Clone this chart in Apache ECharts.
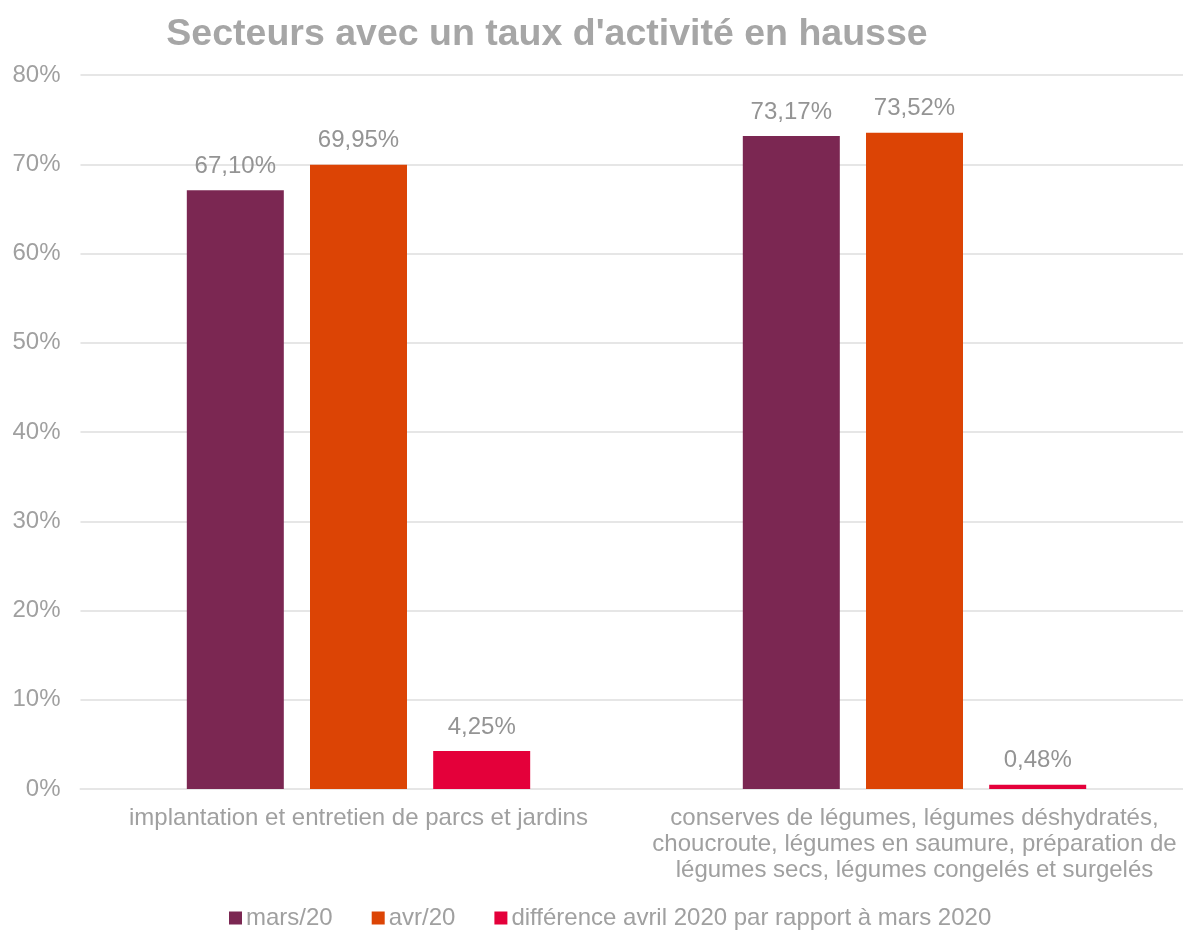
<!DOCTYPE html>
<html>
<head>
<meta charset="utf-8">
<script src="https://cdn.jsdelivr.net/npm/echarts@6/dist/echarts.min.js"></script>
<style>html,body{margin:0;padding:0;background:#fff;overflow:hidden}#c{width:1193px;height:936px}</style>
</head>
<body>
<div id="c"></div>
<script>
var categories = [
  "implantation et entretien de parcs et jardins",
  "conserves de légumes, légumes déshydratés,\nchoucroute, légumes en saumure, préparation de\nlégumes secs, légumes congelés et surgelés"
];
var seriesNames = ["mars/20", "avr/20", "différence avril 2020 par rapport à mars 2020"];
var marsValues = [67.10, 73.17];
var avrValues = [69.95, 73.52];
var diffValues = [4.25, 0.48];
var colors = ["#7B2752", "#DC4405", "#E4003A"];

var chart = echarts.init(document.getElementById('c'));
var font = "'Liberation Sans', Arial, sans-serif";
function fmt(v) { return v.toFixed(2).replace('.', ',') + '%'; }
function mk(name, data, color) {
  return {
    name: name, type: 'bar', data: data, barWidth: 97, barGap: '27%',
    itemStyle: { color: color },
    label: { show: true, position: 'top', distance: 12, color: '#949494', fontSize: 24, fontFamily: font,
      formatter: function (p) { return fmt(p.value); } }
  };
}
chart.setOption({
  animation: false,
  textStyle: { fontFamily: font },
  title: { text: "Secteurs avec un taux d'activité en hausse", left: 542, textAlign: 'center', top: 11,
    textStyle: { fontSize: 37.5, fontWeight: 'bold', color: '#A6A6A6', fontFamily: font } },
  grid: { left: 80.5, right: 0.5, top: 75, bottom: 147, containLabel: false },
  legend: { bottom: 1, left: 224, itemWidth: 13, itemHeight: 13, itemGap: 39, icon: 'rect',
    textStyle: { fontSize: 24, color: '#A0A0A0', fontFamily: font, padding: [0, 0, 0, -1] },
    data: seriesNames },
  xAxis: { type: 'category', data: categories,
    axisLine: { lineStyle: { color: '#E6E6E6', width: 2 } }, axisTick: { show: false },
    axisLabel: { color: '#A0A0A0', fontSize: 24, fontFamily: font, margin: 16, lineHeight: 26, interval: 0 } },
  yAxis: { type: 'value', min: 0, max: 80, interval: 10,
    axisLine: { show: false }, axisTick: { show: false },
    splitLine: { lineStyle: { color: '#E6E6E6', width: 2 } },
    axisLabel: { color: '#A0A0A0', fontSize: 24, fontFamily: font, margin: 20, formatter: '{value}%' } },
  series: [mk(seriesNames[0], marsValues, colors[0]), mk(seriesNames[1], avrValues, colors[1]), mk(seriesNames[2], diffValues, colors[2])]
});
</script>
</body>
</html>
